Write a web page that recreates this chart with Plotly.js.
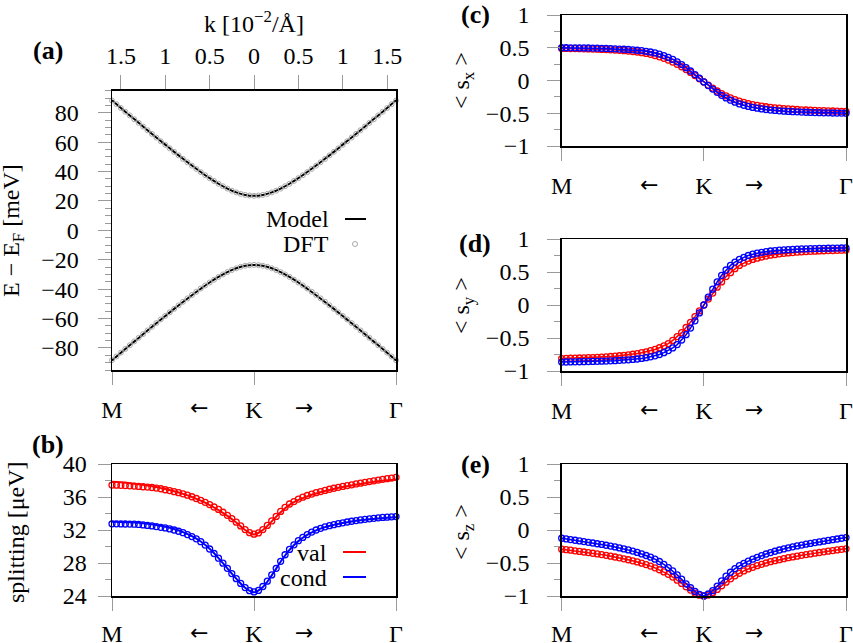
<!DOCTYPE html>
<html>
<head>
<meta charset="utf-8">
<script src="https://cdn.plot.ly/plotly-3.0.1.min.js"></script>
<style>html,body{margin:0;padding:0;background:#fff;}#chart{width:853px;height:643px;}</style>
</head>
<body>
<div id="chart"></div>
<script>
// ---------- data ----------
// k grid in units of 10^-2 / Angstrom, measured from K (negative toward M, positive toward Gamma)
const kFine = [-1.6,-1.55,-1.5,-1.45,-1.4,-1.35,-1.3,-1.25,-1.2,-1.15,-1.1,-1.05,-1,-0.95,-0.9,-0.85,-0.8,-0.75,-0.7,-0.65,-0.6,-0.55,-0.5,-0.45,-0.4,-0.35,-0.3,-0.25,-0.2,-0.15,-0.1,-0.05,0,0.05,0.1,0.15,0.2,0.25,0.3,0.35,0.4,0.45,0.5,0.55,0.6,0.65,0.7,0.75,0.8,0.85,0.9,0.95,1,1.05,1.1,1.15,1.2,1.25,1.3,1.35,1.4,1.45,1.5,1.55,1.6];
const kCoarse = [-1.6,-1.5,-1.4,-1.3,-1.2,-1.1,-1,-0.9,-0.8,-0.7,-0.6,-0.5,-0.4,-0.3,-0.2,-0.1,0,0.1,0.2,0.3,0.4,0.5,0.6,0.7,0.8,0.9,1,1.1,1.2,1.3,1.4,1.5,1.6];

// bottom path labels and top k tick labels
const pathTickVals = [-1.6, 0, 1.6];
const pathTickText = ['M', 'K', 'Γ'];
const arrowVals = [-0.615, 0.565];
const arrowText = ['←', '→'];
const kTickVals = [-1.5, -1, -0.5, 0, 0.5, 1, 1.5];
const kTickText = ['1.5', '1', '0.5', '0', '0.5', '1', '1.5'];

// axis titles
const titleA = 'E − E<sub>F</sub> [meV]';
const titleB = 'splitting [μeV]';
const titleC = '&lt; s<sub>x</sub> &gt;';
const titleD = '&lt; s<sub>y</sub> &gt;';
const titleE = '&lt; s<sub>z</sub> &gt;';
const titleK = 'k [10<sup>−2</sup>/Å]';

// (a) band energies [meV]
const bandCondModel = [88.5,83.3,78.2,73.2,68.1,63.2,58.3,53.4,48.7,44.1,39.7,35.5,31.7,28.4,25.8,24.1,23.5,24.1,25.8,28.4,31.7,35.5,39.7,44.1,48.7,53.4,58.3,63.2,68.1,73.2,78.2,83.3,88.5];
const bandValModel = [-88.5,-83.3,-78.2,-73.2,-68.1,-63.2,-58.3,-53.4,-48.7,-44.1,-39.7,-35.5,-31.7,-28.4,-25.8,-24.1,-23.5,-24.1,-25.8,-28.4,-31.7,-35.5,-39.7,-44.1,-48.7,-53.4,-58.3,-63.2,-68.1,-73.2,-78.2,-83.3,-88.5];
const bandCondDft = [88.3,85.8,83.2,80.7,78.2,75.6,73.1,70.6,68.1,65.6,63.1,60.6,58.2,55.8,53.4,51.0,48.6,46.3,44.0,41.8,39.6,37.5,35.5,33.6,31.7,30.0,28.4,27.0,25.8,24.8,24.1,23.7,23.5,23.7,24.1,24.8,25.8,27.0,28.4,30.0,31.7,33.6,35.5,37.5,39.6,41.8,44.0,46.3,48.6,51.0,53.4,55.8,58.2,60.6,63.1,65.6,68.1,70.6,73.1,75.6,78.2,80.7,83.2,85.8,88.3];
const bandValDft = [-88.3,-85.8,-83.2,-80.7,-78.2,-75.6,-73.1,-70.6,-68.1,-65.6,-63.1,-60.6,-58.2,-55.8,-53.4,-51.0,-48.6,-46.3,-44.0,-41.8,-39.6,-37.5,-35.5,-33.6,-31.7,-30.0,-28.4,-27.0,-25.8,-24.8,-24.1,-23.7,-23.5,-23.7,-24.1,-24.8,-25.8,-27.0,-28.4,-30.0,-31.7,-33.6,-35.5,-37.5,-39.6,-41.8,-44.0,-46.3,-48.6,-51.0,-53.4,-55.8,-58.2,-60.6,-63.1,-65.6,-68.1,-70.6,-73.1,-75.6,-78.2,-80.7,-83.2,-85.8,-88.3];

// (b) spin splitting [μeV]
const splitValModel = [37.85,37.78,37.68,37.55,37.40,37.20,36.98,36.70,36.38,36.00,35.55,35.02,34.42,33.72,32.90,32.00,31.45,32.00,33.05,34.15,35.05,35.65,36.08,36.42,36.72,36.98,37.20,37.40,37.58,37.75,37.90,38.02,38.12];
const splitCondModel = [33.00,32.98,32.94,32.87,32.76,32.60,32.40,32.12,31.75,31.25,30.60,29.72,28.60,27.35,26.10,25.00,24.45,25.10,26.50,28.15,29.60,30.65,31.40,31.95,32.35,32.62,32.85,33.02,33.17,33.30,33.40,33.48,33.55];
const splitValDft = [37.45,37.43,37.41,37.38,37.35,37.32,37.28,37.24,37.20,37.15,37.08,37.00,36.88,36.78,36.65,36.52,36.38,36.22,36.03,35.82,35.60,35.35,35.08,34.79,34.50,34.15,33.78,33.38,32.95,32.50,32.05,31.68,31.50,31.65,32.05,32.55,33.10,33.65,34.25,34.75,35.15,35.45,35.75,35.98,36.18,36.36,36.52,36.66,36.80,36.94,37.06,37.17,37.28,37.38,37.48,37.58,37.68,37.78,37.87,37.96,38.05,38.14,38.22,38.30,38.38];
const splitCondDft = [32.75,32.75,32.74,32.73,32.72,32.70,32.67,32.62,32.56,32.50,32.42,32.33,32.25,32.13,32.00,31.85,31.67,31.45,31.20,30.93,30.58,30.17,29.70,29.15,28.58,27.98,27.35,26.72,26.10,25.52,25.02,24.65,24.50,24.68,25.15,25.80,26.55,27.35,28.20,29.00,29.65,30.20,30.70,31.10,31.45,31.75,32.00,32.20,32.38,32.52,32.65,32.77,32.87,32.97,33.06,33.14,33.22,33.30,33.36,33.42,33.47,33.52,33.56,33.60,33.63];

// (c) <s_x>
const sxVal = [0.490,0.489,0.488,0.487,0.486,0.484,0.482,0.480,0.478,0.475,0.472,0.469,0.465,0.461,0.456,0.450,0.443,0.435,0.425,0.413,0.399,0.382,0.362,0.339,0.312,0.282,0.248,0.210,0.168,0.123,0.075,0.026,-0.023,-0.071,-0.117,-0.160,-0.199,-0.234,-0.265,-0.292,-0.315,-0.335,-0.352,-0.367,-0.380,-0.391,-0.401,-0.409,-0.417,-0.423,-0.429,-0.434,-0.439,-0.443,-0.447,-0.450,-0.453,-0.456,-0.459,-0.461,-0.464,-0.466,-0.468,-0.470,-0.472];
const sxCond = [0.500,0.500,0.499,0.499,0.498,0.497,0.496,0.495,0.493,0.491,0.489,0.486,0.483,0.480,0.477,0.473,0.468,0.462,0.455,0.446,0.435,0.421,0.403,0.381,0.354,0.322,0.285,0.243,0.196,0.145,0.090,0.034,-0.022,-0.078,-0.131,-0.181,-0.226,-0.266,-0.301,-0.331,-0.357,-0.378,-0.396,-0.411,-0.423,-0.434,-0.443,-0.451,-0.457,-0.463,-0.468,-0.472,-0.476,-0.479,-0.482,-0.485,-0.487,-0.489,-0.491,-0.493,-0.494,-0.496,-0.497,-0.498,-0.499];

// (d) <s_y>
const syVal = [-0.812,-0.810,-0.807,-0.805,-0.803,-0.801,-0.798,-0.796,-0.793,-0.789,-0.785,-0.780,-0.775,-0.769,-0.762,-0.755,-0.746,-0.736,-0.723,-0.709,-0.692,-0.673,-0.648,-0.619,-0.585,-0.536,-0.478,-0.419,-0.341,-0.263,-0.176,-0.088,0.000,0.090,0.180,0.270,0.350,0.430,0.490,0.550,0.600,0.635,0.665,0.690,0.710,0.727,0.742,0.755,0.765,0.774,0.782,0.789,0.795,0.800,0.805,0.809,0.813,0.816,0.819,0.822,0.824,0.826,0.828,0.830,0.832];
const syCond = [-0.865,-0.864,-0.862,-0.861,-0.860,-0.858,-0.857,-0.855,-0.853,-0.851,-0.849,-0.846,-0.843,-0.839,-0.835,-0.830,-0.825,-0.818,-0.810,-0.798,-0.785,-0.770,-0.750,-0.722,-0.690,-0.650,-0.600,-0.530,-0.450,-0.350,-0.240,-0.120,0.000,0.120,0.240,0.350,0.450,0.530,0.600,0.650,0.690,0.722,0.750,0.770,0.785,0.798,0.810,0.818,0.825,0.830,0.835,0.839,0.843,0.846,0.849,0.851,0.853,0.855,0.857,0.858,0.860,0.861,0.862,0.864,0.865];

// (e) <s_z>
const szVal = [-0.290,-0.298,-0.306,-0.315,-0.324,-0.333,-0.342,-0.352,-0.362,-0.373,-0.384,-0.396,-0.409,-0.422,-0.436,-0.451,-0.467,-0.484,-0.503,-0.524,-0.547,-0.573,-0.602,-0.635,-0.672,-0.714,-0.760,-0.810,-0.860,-0.910,-0.955,-0.988,-1.000,-0.985,-0.950,-0.900,-0.845,-0.790,-0.740,-0.695,-0.655,-0.620,-0.590,-0.565,-0.540,-0.520,-0.500,-0.480,-0.465,-0.450,-0.435,-0.420,-0.408,-0.396,-0.384,-0.373,-0.362,-0.351,-0.341,-0.331,-0.321,-0.311,-0.302,-0.293,-0.285];
const szCond = [-0.125,-0.135,-0.145,-0.155,-0.165,-0.175,-0.186,-0.197,-0.208,-0.219,-0.231,-0.243,-0.257,-0.271,-0.286,-0.302,-0.320,-0.340,-0.362,-0.386,-0.412,-0.442,-0.477,-0.520,-0.570,-0.620,-0.680,-0.745,-0.815,-0.875,-0.930,-0.975,-1.000,-0.970,-0.920,-0.850,-0.770,-0.700,-0.640,-0.585,-0.540,-0.505,-0.472,-0.442,-0.414,-0.388,-0.364,-0.342,-0.322,-0.303,-0.286,-0.270,-0.255,-0.241,-0.228,-0.215,-0.203,-0.191,-0.180,-0.169,-0.158,-0.147,-0.136,-0.125,-0.115];

// ---------- styling ----------
const FONT = 'Liberation Serif';
const RED = '#ff0000', BLUE = '#0000ff', GREY = '#a8a8a8';
const W = 853, H = 643;
const px = v => v / W;
const py = v => 1 - v / H;

// plot frames in pixels
const FR = {
  a: {x0: 112, x1: 396, y0: 90.7, y1: 370},
  b: {x0: 112, x1: 396, y0: 464, y1: 596},
  c: {x0: 561.7, x1: 846, y0: 15, y1: 146},
  d: {x0: 561.7, x1: 846, y0: 239, y1: 371},
  e: {x0: 561.7, x1: 846, y0: 464, y1: 596}
};
const dx = f => [px(f.x0), px(f.x1)];
const dy = f => [py(f.y1), py(f.y0)];

const tickFont = {family: FONT, size: 24, color: '#000'};
const arrowFont = {family: 'DejaVu Sans', size: 22, color: '#000'};
const common = {
  showline: true, mirror: true, linecolor: '#000', linewidth: 1.5,
  showgrid: false, zeroline: false, ticks: 'outside', ticklen: 13, tickwidth: 1,
  tickcolor: '#9a9a9a', tickfont: tickFont, fixedrange: true
};
function pathAxis(f, anchor, stand) {
  return Object.assign({}, common, {
    domain: dx(f), anchor: anchor, range: [-1.6, 1.6],
    tickmode: 'array', tickvals: pathTickVals, ticktext: pathTickText,
    ticklabelstandoff: stand, ticklabeloverflow: 'allow'
  });
}
function yAxis(f, anchor, range, dtick, minor, labStand) {
  return Object.assign({}, common, {
    domain: dy(f), anchor: anchor, range: range,
    tickmode: 'linear', tick0: 0, dtick: dtick,
    minor: {tickmode: 'linear', tick0: 0, dtick: minor, ticks: 'outside', ticklen: 6, tickwidth: 1, tickcolor: '#9a9a9a'},
    ticklabelstandoff: labStand, ticklabeloverflow: 'allow'
  });
}

const traces = [];
// (a)
traces.push({x: kCoarse, y: bandCondModel, xaxis: 'x', yaxis: 'y', mode: 'lines', line: {color: '#000', width: 2, shape: 'spline'}, name: 'Model', cliponaxis: false});
traces.push({x: kCoarse, y: bandValModel, xaxis: 'x', yaxis: 'y', mode: 'lines', line: {color: '#000', width: 2, shape: 'spline'}, name: 'Model', cliponaxis: false});
traces.push({x: kFine, y: bandCondDft, xaxis: 'x', yaxis: 'y', mode: 'markers', marker: {symbol: 'circle-open', size: 5, color: GREY, line: {width: 1}}, name: 'DFT', cliponaxis: false});
traces.push({x: kFine, y: bandValDft, xaxis: 'x', yaxis: 'y', mode: 'markers', marker: {symbol: 'circle-open', size: 5, color: GREY, line: {width: 1}}, name: 'DFT', cliponaxis: false});
traces.push({x: [], y: [], xaxis: 'x6', yaxis: 'y', mode: 'markers', hoverinfo: 'skip'});
// (b)
traces.push({x: kCoarse, y: splitValModel, xaxis: 'x2', yaxis: 'y2', mode: 'lines', line: {color: RED, width: 2, shape: 'spline'}, name: 'val', cliponaxis: false});
traces.push({x: kFine, y: splitValDft, xaxis: 'x2', yaxis: 'y2', mode: 'markers', marker: {symbol: 'circle-open', size: 6, color: RED, line: {width: 1.3}}, name: 'val DFT', cliponaxis: false});
traces.push({x: kCoarse, y: splitCondModel, xaxis: 'x2', yaxis: 'y2', mode: 'lines', line: {color: BLUE, width: 2, shape: 'spline'}, name: 'cond', cliponaxis: false});
traces.push({x: kFine, y: splitCondDft, xaxis: 'x2', yaxis: 'y2', mode: 'markers', marker: {symbol: 'circle-open', size: 6, color: BLUE, line: {width: 1.3}}, name: 'cond DFT', cliponaxis: false});
// (c)-(e)
[['x3', 'y3', sxVal, sxCond], ['x4', 'y4', syVal, syCond], ['x5', 'y5', szVal, szCond]].forEach(([xa, ya, v, c]) => {
  traces.push({x: kFine, y: v, xaxis: xa, yaxis: ya, mode: 'lines+markers', line: {color: RED, width: 1.5}, marker: {symbol: 'circle-open', size: 6, color: RED, line: {width: 1.3}}, name: 'val', cliponaxis: false});
  traces.push({x: kFine, y: c, xaxis: xa, yaxis: ya, mode: 'lines+markers', line: {color: BLUE, width: 1.5}, marker: {symbol: 'circle-open', size: 6, color: BLUE, line: {width: 1.3}}, name: 'cond', cliponaxis: false});
});
traces.forEach(t => t.showlegend = false);

const layout = {
  width: W, height: H, margin: {l: 0, r: 0, t: 0, b: 0},
  paper_bgcolor: '#fff', plot_bgcolor: '#fff', showlegend: false,
  font: {family: FONT, size: 24, color: '#000'},
  xaxis: pathAxis(FR.a, 'y', 5),
  yaxis: yAxis(FR.a, 'x', [-95, 95], 20, 5, 14),
  xaxis6: Object.assign({}, common, {
    overlaying: 'x', side: 'top', anchor: 'y', range: [-1.6, 1.6], mirror: false,
    tickmode: 'array', tickvals: kTickVals, ticktext: kTickText, ticklen: 14, ticklabelstandoff: 2,
    title: {text: titleK, standoff: 3, font: {family: FONT, size: 24, color: '#000'}}
  }),
  xaxis2: pathAxis(FR.b, 'y2', 3),
  yaxis2: yAxis(FR.b, 'x2', [24, 40], 4, 2, 6),
  xaxis3: pathAxis(FR.c, 'y3', 5),
  yaxis3: yAxis(FR.c, 'x3', [-1, 1], 0.5, 0.25, 13),
  xaxis4: pathAxis(FR.d, 'y4', 5),
  yaxis4: yAxis(FR.d, 'x4', [-1, 1], 0.5, 0.25, 13),
  xaxis5: pathAxis(FR.e, 'y5', 3),
  yaxis5: yAxis(FR.e, 'x5', [-1, 1], 0.5, 0.25, 13),
  annotations: [],
  shapes: []
};

// y-axis titles (rotated)
[[titleA, 13, 231], [titleB, 16, 532], [titleC, 463, 81], [titleD, 463, 306], [titleE, 463, 532]].forEach(([t, x, y]) => {
  layout.annotations.push({text: t, textangle: -90, xref: 'paper', yref: 'paper', x: px(x), y: py(y), xanchor: 'center', yanchor: 'middle', showarrow: false, font: tickFont});
});
// panel labels
[['(a)', 47.5, 51], ['(b)', 48, 444], ['(c)', 475, 15], ['(d)', 475, 243], ['(e)', 475, 465]].forEach(([t, x, y]) => {
  layout.annotations.push({text: '<b>' + t + '</b>', xref: 'paper', yref: 'paper', x: px(x), y: py(y), xanchor: 'center', yanchor: 'middle', showarrow: false, font: {family: FONT, size: 26, color: '#000'}});
});
// direction arrows under each panel
[['x', 407], ['x2', 632], ['x3', 185], ['x4', 409], ['x5', 632]].forEach(([xa, y]) => {
  arrowVals.forEach((v, i) => layout.annotations.push({text: arrowText[i], xref: xa, yref: 'paper', x: v, y: py(y), xanchor: 'center', yanchor: 'middle', showarrow: false, font: arrowFont}));
});
// legends (text left, symbol right)
const legA = [['Model', 219], ['DFT', 244]];
legA.forEach(([t, y]) => layout.annotations.push({text: t, xref: 'paper', yref: 'paper', x: px(331), y: py(y), xanchor: 'right', yanchor: 'middle', showarrow: false, font: tickFont}));
layout.shapes.push({type: 'line', xref: 'paper', yref: 'paper', x0: px(345), x1: px(366), y0: py(219), y1: py(219), line: {color: '#000', width: 2}});
layout.shapes.push({type: 'circle', xref: 'paper', yref: 'paper', x0: px(352.5), x1: px(357.5), y0: py(246.5), y1: py(241.5), line: {color: GREY, width: 1}});
const legB = [['val', 553, RED], ['cond', 578, BLUE]];
legB.forEach(([t, y, c]) => {
  layout.annotations.push({text: t, xref: 'paper', yref: 'paper', x: px(329), y: py(y), xanchor: 'right', yanchor: 'middle', showarrow: false, font: tickFont});
  layout.shapes.push({type: 'line', xref: 'paper', yref: 'paper', x0: px(343), x1: px(366), y0: py(y - 1), y1: py(y - 1), line: {color: c, width: 2}});
});

Plotly.newPlot('chart', traces, layout, {displayModeBar: false, staticPlot: true});
</script>
</body>
</html>
